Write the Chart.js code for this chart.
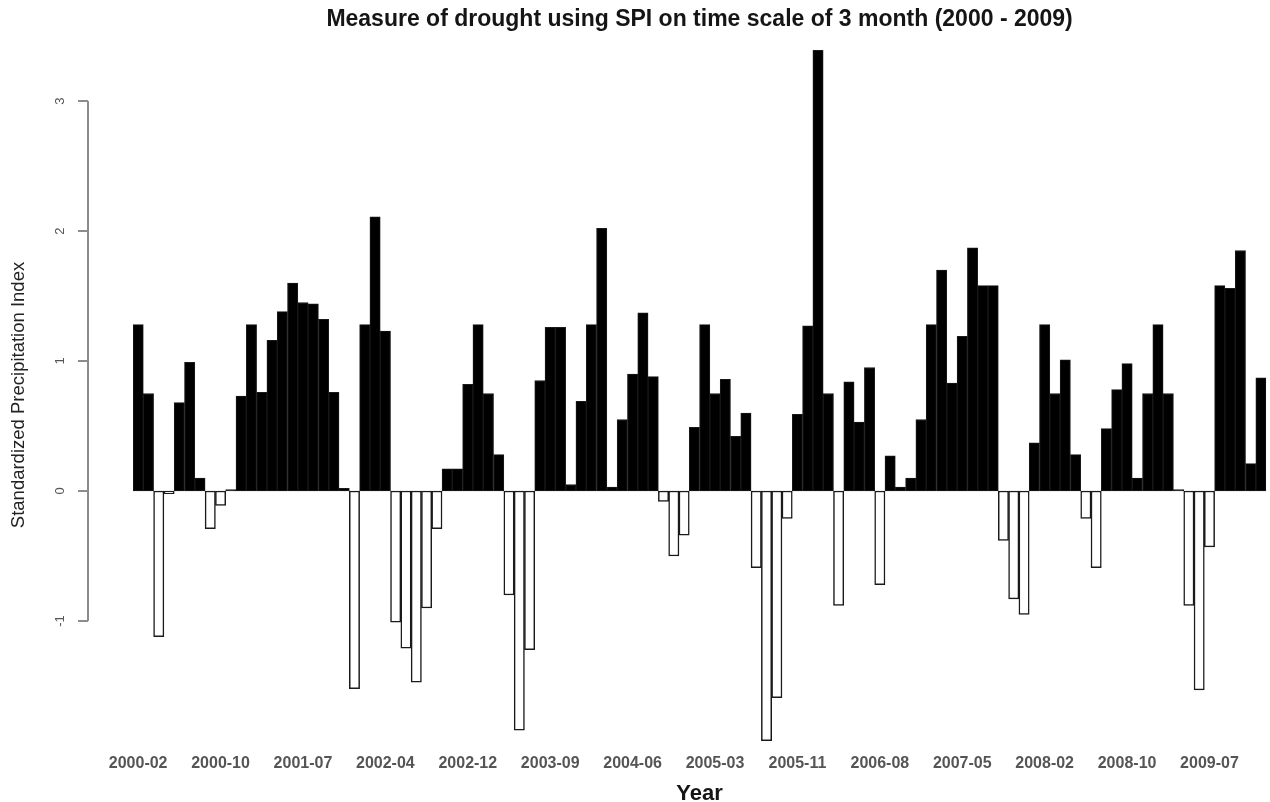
<!DOCTYPE html>
<html>
<head>
<meta charset="utf-8">
<title>SPI-3 drought measure 2000-2009</title>
<script src="https://cdn.jsdelivr.net/npm/chart.js@4.4.1/dist/chart.umd.min.js"></script>
<style>
  html, body { margin: 0; padding: 0; background: #fff; }
</style>
</head>
<body>
<canvas id="spiChart" width="1270" height="802"></canvas>
<script>
// Month names printed under every 8th bar
const tickLabels = [
    '2000-02', '2000-10', '2001-07', '2002-04', '2002-12', '2003-09', '2004-06',
    '2005-03', '2005-11', '2006-08', '2007-05', '2008-02', '2008-10', '2009-07'
];
const TICK_EVERY = 8;

// SPI on a 3 month time scale, one value per bar
const spiValues = [
     1.28,  0.75, -1.12, -0.02,  0.68,  0.99,  0.10, -0.29, -0.11,  0.01,
     0.73,  1.28,  0.76,  1.16,  1.38,  1.60,  1.45,  1.44,  1.32,  0.76,
     0.02, -1.52,  1.28,  2.11,  1.23, -1.01, -1.21, -1.47, -0.90, -0.29,
     0.17,  0.17,  0.82,  1.28,  0.75,  0.28, -0.80, -1.84, -1.22,  0.85,
     1.26,  1.26,  0.05,  0.69,  1.28,  2.02,  0.03,  0.55,  0.90,  1.37,
     0.88, -0.08, -0.50, -0.34,  0.49,  1.28,  0.75,  0.86,  0.42,  0.60,
    -0.59, -1.92, -1.59, -0.21,  0.59,  1.27,  3.39,  0.75, -0.88,  0.84,
     0.53,  0.95, -0.72,  0.27,  0.03,  0.10,  0.55,  1.28,  1.70,  0.83,
     1.19,  1.87,  1.58,  1.58, -0.38, -0.83, -0.95,  0.37,  1.28,  0.75,
     1.01,  0.28, -0.21, -0.59,  0.48,  0.78,  0.98,  0.10,  0.75,  1.28,
     0.75,  0.01, -0.88, -1.53, -0.43,  1.58,  1.56,  1.85,  0.21,  0.87
];

// y axis ticks and plotted range
const yTicks = [-1, 0, 1, 2, 3];
const Y_MIN = -1.954;
const Y_MAX = 3.431;

const FONT = '"Liberation Sans", Arial, sans-serif';

// one category per bar
const barIndex = spiValues.map((v, i) => i + 1);

// wet spells filled black, dry spells left white with a heavier outline
const barFill = spiValues.map(v => (v >= 0 ? '#000000' : '#ffffff'));
const barEdge = spiValues.map(v => (v >= 0 ? 1 : 1.5));

// R style left axis: line only from first to last tick, rotated labels
const rStyleAxis = {
    id: 'rStyleAxis',
    afterDraw(chart) {
        const { ctx } = chart;
        const y = chart.scales.y;
        const axisX = 88;
        const top = y.getPixelForValue(yTicks[yTicks.length - 1]);
        const bottom = y.getPixelForValue(yTicks[0]);

        ctx.save();
        ctx.strokeStyle = '#8c8c8c';
        ctx.lineWidth = 2;
        ctx.beginPath();
        ctx.moveTo(axisX, top);
        ctx.lineTo(axisX, bottom);
        yTicks.forEach(t => {
            const py = y.getPixelForValue(t);
            ctx.moveTo(axisX - 10, py);
            ctx.lineTo(axisX, py);
        });
        ctx.stroke();

        ctx.fillStyle = '#555';
        ctx.font = '13px ' + FONT;
        ctx.textAlign = 'center';
        ctx.textBaseline = 'middle';
        yTicks.forEach(t => {
            ctx.save();
            ctx.translate(60, y.getPixelForValue(t));
            ctx.rotate(-Math.PI / 2);
            ctx.fillText(String(t), 0, 0);
            ctx.restore();
        });
        ctx.restore();
    }
};

new Chart(document.getElementById('spiChart'), {
    type: 'bar',
    data: {
        labels: barIndex,
        datasets: [{
            data: spiValues,
            backgroundColor: barFill,
            borderColor: '#1a1a1a',
            borderWidth: barEdge,
            borderSkipped: false,
            barPercentage: 1,
            categoryPercentage: 1
        }]
    },
    options: {
        responsive: false,
        devicePixelRatio: 1,
        animation: false,
        layout: {
            padding: { right: 2 }
        },
        plugins: {
            legend: { display: false },
            tooltip: { enabled: false },
            title: {
                display: true,
                fullSize: false,
                text: 'Measure of drought using SPI on time scale of 3 month (2000 - 2009)',
                color: '#151515',
                font: { family: FONT, size: 23, weight: 'bold' },
                padding: { top: 6, bottom: 11.4 }
            }
        },
        scales: {
            x: {
                offset: true,
                grid: { display: false, drawTicks: false },
                border: { display: false },
                ticks: {
                    autoSkip: false,
                    maxRotation: 0,
                    minRotation: 0,
                    padding: 9,
                    color: '#555',
                    font: { family: FONT, size: 16, weight: 'bold' },
                    callback: (value, i) => (i % TICK_EVERY === 0 ? tickLabels[i / TICK_EVERY] : '')
                },
                title: {
                    display: true,
                    text: 'Year',
                    color: '#151515',
                    font: { family: FONT, size: 22, weight: 'bold', lineHeight: 1 },
                    padding: { top: 0, bottom: -3 }
                },
                afterFit: (scale) => { scale.height = 57; }
            },
            y: {
                min: Y_MIN,
                max: Y_MAX,
                grid: { display: false, drawTicks: false },
                border: { display: false },
                ticks: { display: false },
                title: {
                    display: true,
                    text: 'Standardized Precipitation Index',
                    color: '#222',
                    font: { family: FONT, size: 18.5 },
                    padding: { top: 8, bottom: 0 }
                },
                afterFit: (scale) => { scale.width = 133; }
            }
        }
    },
    plugins: [rStyleAxis]
});
</script>
</body>
</html>
